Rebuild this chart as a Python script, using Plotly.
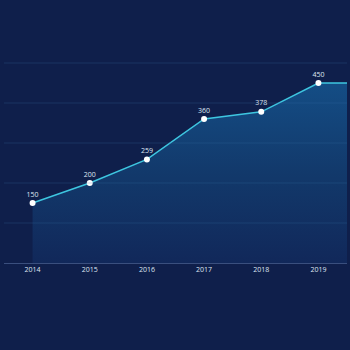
import plotly.graph_objects as go

# Annual values
years = ["2014", "2015", "2016", "2017", "2018", "2019"]
values = [150, 200, 259, 360, 378, 450]
grid_vals = [100, 200, 300, 400, 500]

BG = "#0f1f4b"
LINE = "#3ec6e0"
GRID = "rgba(60,110,170,0.25)"

n = len(years)
xs = list(range(n))
# carry the last value flat to the right edge of the category axis
x_end = n - 0.5
line_x = xs + [x_end]
line_y = values + [values[-1]]

fig = go.Figure()

fig.add_trace(go.Scatter(
    x=line_x, y=line_y,
    mode="lines",
    line=dict(color=LINE, width=1.5),
    fill="tozeroy",
    fillgradient=dict(
        type="vertical",
        colorscale=[[0, "#11285a"], [0.5, "#12396b"], [1, "#144d85"]],
    ),
    hoverinfo="skip",
    showlegend=False,
))

fig.add_trace(go.Scatter(
    x=xs, y=values,
    mode="markers+text",
    marker=dict(color="white", size=6),
    text=[str(v) for v in values],
    textposition="top center",
    textfont=dict(color="#dfe6f2", size=7, family="Open Sans"),
    showlegend=False,
))

# horizontal grid drawn over the area fill so it stays visible
for gv in grid_vals:
    fig.add_hline(y=gv, line=dict(color=GRID, width=1), layer="above")

fig.update_layout(
    width=350, height=350,
    paper_bgcolor=BG, plot_bgcolor=BG,
    margin=dict(l=4, r=3, t=55, b=87),
    xaxis=dict(
        range=[-0.5, n - 0.5],
        tickmode="array", tickvals=xs, ticktext=years,
        showgrid=False, zeroline=False,
        showline=True, linecolor="#3a4f7e", linewidth=1,
        tickfont=dict(color="#dfe6f2", size=7, family="Open Sans"),
        ticks="",
    ),
    yaxis=dict(
        range=[0, 520], tickvals=grid_vals,
        showgrid=False, zeroline=False, showticklabels=False,
    ),
)

fig.write_html("out.html")
